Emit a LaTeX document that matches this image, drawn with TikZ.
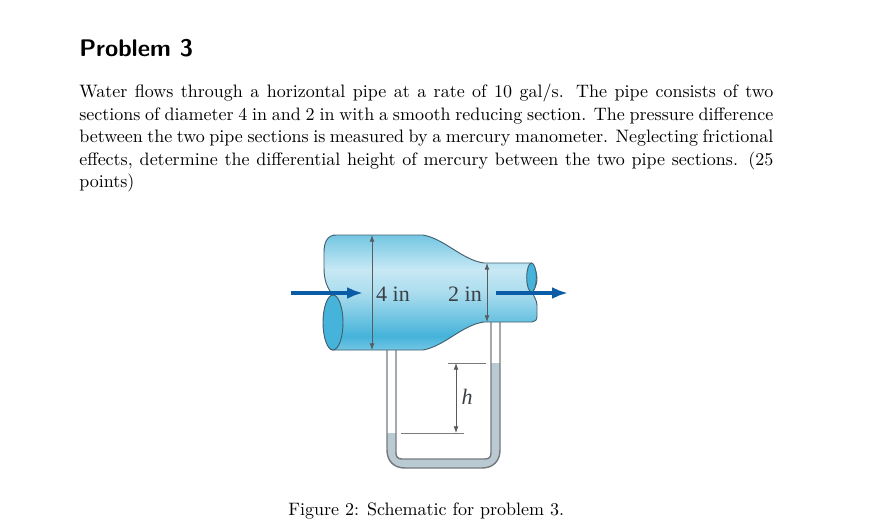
\documentclass[tikz,border=0pt]{standalone}
\usepackage{fontspec}
\setmainfont{lmroman10-regular}[Extension=.otf]
\setsansfont{lmsans10-bold}[Extension=.otf]
\newfontfamily\figfont{Liberation Serif}
\usetikzlibrary{arrows.meta}
\definecolor{tubeline}{HTML}{777B7E}
\definecolor{pipeline}{HTML}{44606F}
\definecolor{mercury}{HTML}{BACAD2}
\definecolor{pipeend}{HTML}{45B3DA}
\definecolor{flowblue}{HTML}{0B5CA6}
\definecolor{labelgrey}{HTML}{3A3F44}
\pgfdeclareverticalshading{pipeshade}{100bp}{
 color(0bp)=(pipeend!70!white);
 color(25bp)=(pipeend!75!white);
 color(31bp)=(pipeend);
 color(50bp)=(pipeend!45!white);
 color(60bp)=(pipeend!30!white);
 color(75bp)=(pipeend!75!white);
 color(100bp)=(pipeend!75!white)}
\tikzset{
 x=0.75pt,y=-0.75pt,
 bodyline/.style={anchor=base west,inner sep=0pt,font=\fontsize{13.5}{17}\selectfont,text=black},
 dimarrow/.style={draw=labelgrey!85,line width=0.6pt,{Latex[length=5pt,width=3.6pt]}-{Latex[length=5pt,width=3.6pt]}},
 flowarrow/.style={draw=flowblue,line width=2.5pt,-{Latex[length=12pt,width=9pt]}},
 refline/.style={draw=tubeline,line width=0.7pt},
 tubewall/.style={draw=tubeline,line width=1.1pt},
 figlabel/.style={inner sep=0pt,text=labelgrey,font=\figfont\fontsize{16.5}{18}\selectfont}
}
\begin{document}
\begin{tikzpicture}
\useasboundingbox[fill=white] (0,0) rectangle (870,528);
% text
\node[anchor=base west,inner sep=0pt,font=\sffamily\fontsize{18}{22}\selectfont] (title) at (79,56.7) {Problem 3};
\node[bodyline] (l1) at (79,97.3) {\hbox to 520.5pt{Water flows through a horizontal pipe at a rate of 10 gal/s. The pipe consists of two}};
\node[bodyline] (l2) at (79,120) {\hbox to 520.5pt{sections of diameter 4 in and 2 in with a smooth reducing section. The pressure difference}};
\node[bodyline] (l3) at (79,142.4) {\hbox to 520.5pt{between the two pipe sections is measured by a mercury manometer. Neglecting frictional}};
\node[bodyline] (l4) at (79,165) {\hbox to 520.5pt{effects, determine the differential height of mercury between the two pipe sections. (25}};
\node[bodyline] (l5) at (79,187.7) {points)};
\node[bodyline] (cap) at (288,515) {Figure 2: Schematic for problem 3.};
% manometer
\fill[mercury] (387,433) -- (387,450) .. controls (387,461) and (394,468) .. (405,468) -- (482,468) .. controls (493,468) and (500,461) .. (500,450) -- (500,363) -- (491,363) -- (491,453) .. controls (491,457) and (489,459) .. (485,459) -- (402,459) .. controls (398,459) and (396,457) .. (396,453) -- (396,433) -- cycle;
\draw[tubewall] (387,348) -- (387,450) .. controls (387,461) and (394,468) .. (405,468) -- (482,468) .. controls (493,468) and (500,461) .. (500,450) -- (500,320);
\draw[tubewall] (396,348) -- (396,453) .. controls (396,457) and (398,459) .. (402,459) -- (485,459) .. controls (489,459) and (491,457) .. (491,453) -- (491,320);
% pipe
\path[shading=pipeshade,draw=pipeline,line width=0.7pt] (333,235) -- (423,235) .. controls (445,239) and (462,260) .. (484,263) -- (531,263)
 .. controls (536,268) and (537,275) .. (537,280) .. controls (537,285) and (533,290) .. (533,293) .. controls (533,296) and (537,300) .. (537,305) -- (537,316) .. controls (537,320) and (535,322) .. (532,322)
 -- (484,322) .. controls (462,325) and (445,346) .. (423,350) -- (333,350)
 .. controls (327,350) and (324,335) .. (324,322) .. controls (324,310) and (327,300) .. (333,295) .. controls (327,288) and (324,280) .. (324,268) -- (324,252) .. controls (324,243) and (327,235) .. (336,235) -- cycle;
\filldraw[fill=pipeend,draw=pipeline,line width=0.7pt] (333,322.5) ellipse[x radius=10,y radius=27.5];
\filldraw[fill=pipeend,draw=pipeline,line width=0.7pt] (531.5,277.5) ellipse[x radius=4.8,y radius=14.5];
% flow
\coordinate (inA) at (291,293);
\coordinate (inB) at (363,293);
\coordinate (outA) at (496,293);
\coordinate (outB) at (568,293);
\draw[flowarrow] (inA) -- (inB);
\draw[flowarrow] (outA) -- (outB);
% dimensions
\coordinate (d4t) at (372,235);
\coordinate (d4b) at (372,350);
\coordinate (d2t) at (487,263);
\coordinate (d2b) at (487,322);
\draw[dimarrow] (d4t) -- (d4b);
\draw[dimarrow] (d2t) -- (d2b);
\node[figlabel] (four) at (393,294) {4 in};
\node[figlabel] (two) at (465,294) {2 in};
% h
\coordinate (ht1) at (448,363);
\coordinate (ht2) at (486,363);
\coordinate (hb1) at (401,433);
\coordinate (hb2) at (464,433);
\coordinate (ha) at (456,363);
\coordinate (hz) at (456,433);
\draw[refline] (ht1) -- (ht2);
\draw[refline] (hb1) -- (hb2);
\draw[dimarrow] (ha) -- (hz);
\node[figlabel] (hlabel) at (467,397) {\itshape h};
\end{tikzpicture}
\end{document}
